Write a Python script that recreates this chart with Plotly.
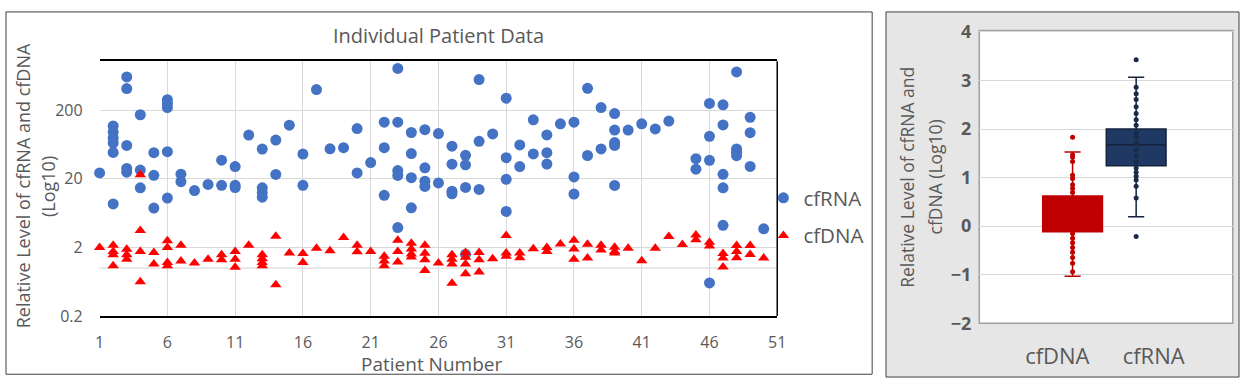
import plotly.graph_objects as go

# ---------------- data ----------------
patient_numbers = list(range(1, 51))
cfrna_by_patient = [
    [24.4], [118, 96, 79, 66.6, 48.6, 8.6], [612, 415, 61.4, 28.4, 25], [172, 26.9, 14.8], [48.2, 22.5, 7.5],
    [285, 251, 219, 49.8, 10.5], [23.4, 18.2], [13.5], [16.6], [37.4, 16.1],
    [30.2, 16.1, 14.9], [87], [54.4, 14.8, 12.6, 10.8], [73.6, 23.2], [121],
    [45.9, 16.1], [400], [54.9], [57], [108, 24.4],
    [34.6], [134, 57, 11.5], [814, 134, 26.4, 22.4, 3.9], [94.8, 46.8, 20.8, 7.55], [104, 29, 18.5, 15.5],
    [91.3, 17.4], [59.8, 32.7, 13.2, 12.1], [44, 32, 15, 1.59], [561, 70.6, 14], [90.4],
    [300, 40.7, 19.7, 6.7], [62.4, 30.2], [145, 46.2], [87.3, 48.2, 32.9], [127],
    [134, 21.3, 12], [417, 43.8], [219, 54.6], [179, 103, 67.7, 61.4, 16], [103],
    [127], [107], [139], [], [39.3, 27.7],
    [251, 83.5, 37.2, 0.607], [240, 122, 23.3, 14.8, 4.2], [724, 54.7, 48.7, 43.5], [158, 94.2, 30.3], [3.73],
]
cfdna_by_patient = [
    [2.0], [2.16, 1.75, 1.57, 1.08], [1.88, 1.57, 1.34], [22.9, 3.53, 1.75, 0.63], [1.69, 1.15],
    [2.5, 2.0, 1.21, 1.08], [2.16, 1.27], [1.19], [1.34], [1.57, 1.32],
    [1.75, 1.34, 1.03], [2.16], [1.57, 1.37, 1.21, 1.08], [2.9, 0.57], [1.66],
    [1.63, 1.21], [1.94], [1.79], [2.8], [2.16, 1.73],
    [1.75], [1.49, 1.27, 1.08], [2.55, 1.75, 1.23], [2.3, 1.9, 1.6, 1.45], [2.16, 1.64, 1.32, 0.92],
    [1.19], [1.57, 1.35, 1.15, 0.6], [1.69, 1.44, 1.15, 0.83], [1.69, 1.32, 0.88], [1.37],
    [2.98, 1.66, 1.49], [1.66, 1.41], [1.92], [2.0, 1.75], [2.25],
    [2.55, 1.9, 1.34], [2.22, 1.4], [2.16, 1.84], [2.02, 1.75, 1.66], [1.94],
    [1.28], [1.94], [2.88], [2.2], [3.04, 2.58],
    [2.38, 2.1], [1.63, 1.4, 1.04], [2.13, 1.75, 1.41], [2.13, 1.58], [1.4],
]
x_ticks = [1, 6, 11, 16, 21, 26, 31, 36, 41, 46, 51]
y_ticks = [0.2, 2, 20, 200]
y_tick_labels = ["0.2", "2", "20", "200"]

# box plot (log10 values)
box_categories = ["cfDNA", "cfRNA"]
box_q1 = [-0.117, 1.243]
box_median = [0.25, 1.676]
box_q3 = [0.62, 2.0]
box_lowerfence = [-1.03, 0.194]
box_upperfence = [1.53, 3.07]
cfdna_log_points = [1.83, 1.469, 1.424, 1.333, 1.049, 0.984, 0.854, 0.777, 0.693, 0.55, 0.45, 0.35,
                    0.25, 0.15, 0.05, -0.05, -0.149, -0.246, -0.343, -0.44, -0.537, -0.647, -0.764, -0.939]
cfrna_log_points = [3.43, 2.86, 2.73, 2.61, 2.46, 2.32, 2.19, 2.08, 1.92, 1.83, 1.71, 1.57, 1.44, 1.32,
                    1.20, 1.11, 1.03, 0.95, 0.82, 0.58, -0.214]
box_y_ticks = [-2, -1, 0, 1, 2, 3, 4]

# ---------------- figure ----------------
W, H = 1249, 389
def px(x):
    return x / W
def py(y):
    return 1 - y / H

rna_x = [p for p, vals in zip(patient_numbers, cfrna_by_patient) for v in vals]
rna_y = [v for vals in cfrna_by_patient for v in vals]
dna_x = [p for p, vals in zip(patient_numbers, cfdna_by_patient) for v in vals]
dna_y = [v for vals in cfdna_by_patient for v in vals]

GRAY_TXT = "#595959"
FONT = "Open Sans"

fig = go.Figure()
fig.add_trace(go.Scatter(x=rna_x, y=rna_y, mode="markers", name="cfRNA", legendgroup="a",
                         marker=dict(symbol="circle", size=11, color="#4472c4"),
                         cliponaxis=False, xaxis="x", yaxis="y"))
fig.add_trace(go.Scatter(x=dna_x, y=dna_y, mode="markers", name="cfDNA", legendgroup="b",
                         marker=dict(symbol="triangle-up", size=10, color="#ff0000"),
                         cliponaxis=False, xaxis="x", yaxis="y"))

box_colors = [("#c00000", "#c00000"), ("#203864", "#15223c")]
for i, cat in enumerate(box_categories):
    fill, line = box_colors[i]
    fig.add_trace(go.Box(x=[i], q1=[box_q1[i]], median=[box_median[i]], q3=[box_q3[i]],
                         lowerfence=[box_lowerfence[i]], upperfence=[box_upperfence[i]],
                         fillcolor=fill, line=dict(color=line, width=1.5), width=0.94,
                         whiskerwidth=0.27, boxpoints=False, showlegend=False,
                         xaxis="x2", yaxis="y2", name=cat))
fig.add_trace(go.Scatter(x=[0] * len(cfdna_log_points), y=cfdna_log_points, mode="markers",
                         marker=dict(size=5, color="#c00000"), showlegend=False,
                         xaxis="x2", yaxis="y2"))
fig.add_trace(go.Scatter(x=[1] * len(cfrna_log_points), y=cfrna_log_points, mode="markers",
                         marker=dict(size=5, color="#1a2a48"), showlegend=False,
                         xaxis="x2", yaxis="y2"))

shapes = [
    dict(type="rect", xref="paper", yref="paper", x0=px(891), x1=px(1248), y0=py(388), y1=py(1),
         fillcolor="#e7e6e6", line=dict(color="#404040", width=1), layer="below"),
    dict(type="rect", xref="x2 domain", yref="y2 domain", x0=0, x1=1, y0=0, y1=1,
         fillcolor="white", line=dict(color="#a0a0a0", width=1.5), layer="below"),
    dict(type="rect", xref="paper", yref="paper", x0=px(1), x1=px(877), y0=py(385), y1=py(1),
         line=dict(color="#404040", width=1), layer="below"),
    dict(type="line", xref="x domain", yref="y", x0=0, x1=1, y0=1, y1=1,
         line=dict(color="#d0d0d0", width=1), layer="below"),
    dict(type="line", xref="x domain", yref="y domain", x0=1, x1=1, y0=0, y1=1,
         line=dict(color="black", width=1.5)),
]

def ann(text, x, y, size, angle=0):
    return dict(text=text, x=px(x), y=py(y), xref="paper", yref="paper", xanchor="center",
                yanchor="middle", showarrow=False, textangle=angle,
                font=dict(size=size, color=GRAY_TXT, family=FONT))

annotations = [
    ann("Individual Patient Data", 438, 26, 20),
    ann("Relative Level of cfRNA and cfDNA", 18, 185, 18, -90),
    ann("(Log10)", 44, 186, 18, -90),
    ann("Patient Number", 431, 374, 19),
    ann("Relative Level of cfRNA and", 912, 176, 17.5, -90),
    ann("cfDNA (Log10)", 941, 176, 17.5, -90),
]

fig.update_layout(
    width=W, height=H, autosize=False,
    margin=dict(l=0, r=0, t=0, b=0, pad=0),
    paper_bgcolor="white", plot_bgcolor="white",
    font=dict(family=FONT, color=GRAY_TXT),
    showlegend=True,
    legend=dict(x=px(767), y=py(177), xanchor="left", yanchor="top",
                font=dict(size=20.5, color=GRAY_TXT, family=FONT),
                traceorder="grouped", tracegroupgap=8, bgcolor="rgba(0,0,0,0)",
                itemwidth=30),
    xaxis=dict(domain=[px(95.7), px(781)], range=[1, 51], tickvals=x_ticks, anchor="y",
               showgrid=True, gridcolor="#d9d9d9", gridwidth=1, zeroline=False,
               showline=True, mirror=True, linecolor="black", linewidth=1.5,
               ticks="", ticklabelstandoff=11, tickfont=dict(size=16, color=GRAY_TXT)),
    yaxis=dict(domain=[py(323.3), py(53.3)], type="log", range=[-0.699, 3.015], anchor="x",
               tickvals=y_ticks, ticktext=y_tick_labels,
               showgrid=True, gridcolor="#d9d9d9", gridwidth=1, zeroline=False,
               showline=False, ticks="", ticklabelstandoff=16, tickfont=dict(size=16, color=GRAY_TXT)),
    xaxis2=dict(domain=[px(985.3), px(1241.7)], range=[-1.468, 2.52], tickvals=[-0.24, 1.275],
                anchor="y2", ticktext=box_categories, showgrid=False, zeroline=False,
                showline=False, ticks="", ticklabelstandoff=18, tickfont=dict(size=22, color=GRAY_TXT)),
    yaxis2=dict(domain=[py(331), py(20.7)], range=[-2, 4.03], tickvals=box_y_ticks, anchor="x2",
                showgrid=True, gridcolor="#d9d9d9", zeroline=False, showline=False, ticks="",
                ticklabelstandoff=7,
                tickfont=dict(size=18, color=GRAY_TXT, family=FONT, weight="bold")),
    shapes=shapes, annotations=annotations,
)

post = ("var de=document.documentElement,b=document.body;"
        "de.style.margin='0';de.style.padding='0';de.style.overflow='hidden';"
        "b.style.margin='0';b.style.padding='0';b.style.overflow='hidden';")
fig.write_html("out.html", post_script=post, config={"displayModeBar": False})
